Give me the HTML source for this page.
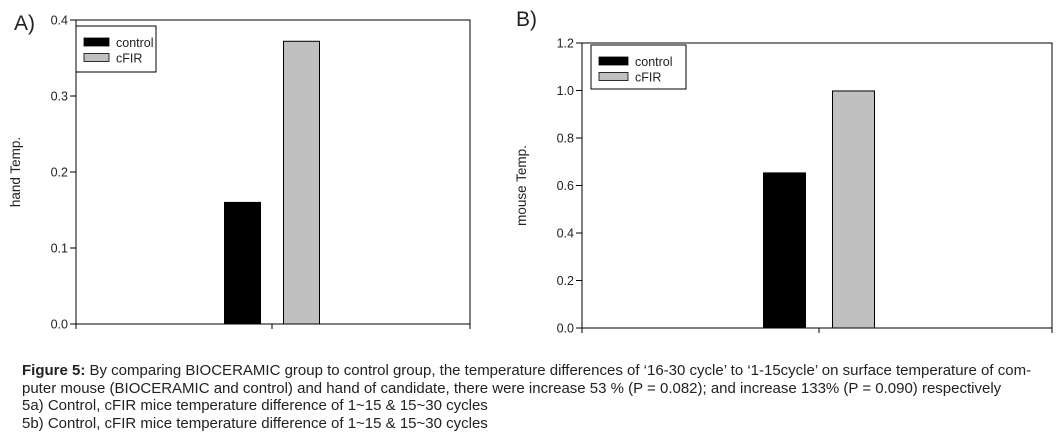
<!DOCTYPE html>
<html><head><meta charset="utf-8"><style>
body{margin:0;background:#fff;width:1060px;height:446px;overflow:hidden;font-family:"Liberation Sans",sans-serif}
svg text{font-family:"Liberation Sans",sans-serif}
#cap{position:absolute;left:22px;top:362px;font-size:15px;line-height:17.5px;color:#222;width:1036px;white-space:nowrap}
</style></head><body>
<svg id="svg" width="1060" height="350" style="position:absolute;left:0;top:0"></svg>
<div id="cap"><b>Figure 5:</b> By comparing BIOCERAMIC group to control group, the temperature differences of ‘16-30 cycle’ to ‘1-15cycle’ on surface temperature of com-<br>puter mouse (BIOCERAMIC and control) and hand of candidate, there were increase 53 % (P = 0.082); and increase 133% (P = 0.090) respectively<br>5a) Control, cFIR mice temperature difference of 1~15 &amp; 15~30 cycles<br>5b) Control, cFIR mice temperature difference of 1~15 &amp; 15~30 cycles</div>
<script>
const seriesNames=["control","cFIR"];
const handValues=[0.16,0.372];
const mouseValues=[0.653,0.998];
const handTicks=["0.0","0.1","0.2","0.3","0.4"];
const mouseTicks=["0.0","0.2","0.4","0.6","0.8","1.0","1.2"];
const fills=["#000","#c0c0c0"];
const NS="http://www.w3.org/2000/svg";
const svg=document.getElementById('svg');
function mk(t,a,p){const e=document.createElementNS(NS,t);for(const k in a)e.setAttribute(k,a[k]);(p||svg).appendChild(e);return e;}
function chart(o){
  const g=mk('g',{});
  
  
  const ymax=parseFloat(o.ticks[o.ticks.length-1]);
  const y=v=>o.b-(v/ymax)*(o.b-o.t);
  const lbl=mk('text',{x:o.lx,y:o.ly,'font-size':21,fill:'#222'},g);lbl.textContent=o.letter;
  
  
  mk('rect',{x:o.l,y:o.t,width:o.r-o.l,height:o.b-o.t,fill:'none',stroke:'#000','stroke-width':1},g);
  o.ticks.forEach(tk=>{const yy=y(parseFloat(tk));
    mk('line',{x1:o.l-6,x2:o.l,y1:yy,y2:yy,stroke:'#000'},g);
    const t=mk('text',{x:o.l-8,y:yy+4.5,'font-size':12.5,'text-anchor':'end',fill:'#222'},g);t.textContent=tk;
    
    });
  [o.l,o.tx,o.r].forEach(x=>mk('line',{x1:x,x2:x,y1:o.b,y2:o.b+5,stroke:'#000'},g));
  const yt=mk('text',{x:0,y:0,'font-size':13.5,'text-anchor':'middle',fill:'#222',transform:`translate(${o.l-56},${(o.t+o.b)/2}) rotate(-90)`},g);
  yt.textContent=o.ytitle;
  
  
  o.vals.forEach((v,i)=>{const x0=o.tx+(i===0?-o.gap-o.bw:o.gap);
    const r=mk('rect',{x:x0,y:y(v),width:o.bw,height:o.b-y(v),fill:fills[i],stroke:'#000'},g);
    
    });
  const lg=mk('g',{},g);
  
  
  mk('rect',{x:o.lg[0],y:o.lg[1],width:o.lg[2],height:o.lg[3],fill:'#fff',stroke:'#000'},lg);
  seriesNames.forEach((n,i)=>{const yy=o.lg[1]+12+i*15.5;
    mk('rect',{x:o.lg[0]+8,y:yy,width:o.sw,height:8,fill:fills[i],stroke:'#000','stroke-width':0.8},lg);
    const t=mk('text',{x:o.lg[0]+o.sw+15,y:yy+9,'font-size':12.5,fill:'#222'},lg);t.textContent=n;
    
    });
}
chart({name:'chart-a-hand',letter:'A)',lx:14,ly:30,l:76,r:470,t:20,b:324,tx:272,gap:11.5,bw:36,vals:handValues,ticks:handTicks,ytitle:'hand Temp.',lg:[76,26,80,46],sw:25});
chart({name:'chart-b-mouse',letter:'B)',lx:516,ly:26,l:582,r:1052,t:43,b:328,tx:819,gap:13.5,bw:42,vals:mouseValues,ticks:mouseTicks,ytitle:'mouse Temp.',lg:[591,45,95,44],sw:29});
</script>
</body></html>
